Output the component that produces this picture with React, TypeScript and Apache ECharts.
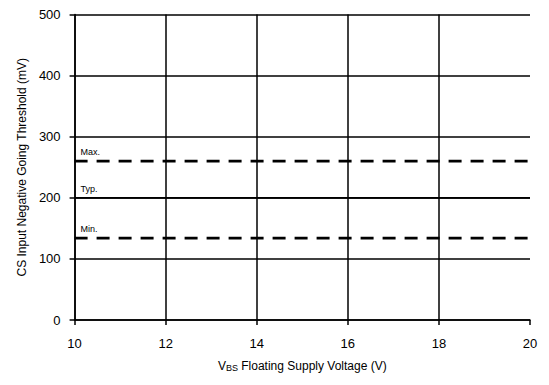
import React, { useEffect, useRef } from "react";
import * as echarts from "echarts";

const xRange = [10, 20];
const maxValues = [260, 260];
const typValues = [200, 200];
const minValues = [134, 134];
const lineLabels = ["Max.", "Typ.", "Min."];

export default function App() {
  const ref = useRef<HTMLDivElement>(null);
  useEffect(() => {
    const chart = echarts.init(ref.current!, null, { renderer: "svg" });
    const font = "Liberation Sans, Arial, sans-serif";
    const mk = (name: string, vals: number[], dashed: boolean) => ({
      name,
      type: "line",
      data: xRange.map((x, i) => [x, vals[i]]),
      showSymbol: false,
      symbol: "none",
      lineStyle: {
        color: "#000",
        width: dashed ? 2.6 : 1.8,
        type: dashed ? [13, 9] : "solid",
      },
      z: 5,
    });
    chart.setOption({
      animation: false,
      backgroundColor: "#fff",
      grid: { left: 61, right: 11, top: 3, bottom: 54 },
      xAxis: {
        type: "value",
        min: 10,
        max: 20,
        interval: 2,
        name: "{v|V}{s|BS}{v| Floating Supply Voltage (V)}",
        nameLocation: "middle",
        nameGap: 40,
        nameTextStyle: {
          rich: {
            v: { fontSize: 12, fontFamily: font, color: "#000", verticalAlign: "bottom" },
            s: { fontSize: 9, fontFamily: font, color: "#000", verticalAlign: "bottom" },
          },
        },
        axisLine: { lineStyle: { color: "#000", width: 1.5 } },
        axisTick: { show: true, inside: false, length: 5, lineStyle: { color: "#000", width: 1.5 } },
        axisLabel: { color: "#000", fontSize: 13, fontFamily: font, margin: 17 },
        splitLine: { show: true, showMaxLine: false, lineStyle: { color: "#000", width: 1.5 } },
      },
      yAxis: {
        type: "value",
        min: 0,
        max: 500,
        interval: 100,
        name: "CS Input Negative Going Threshold (mV)",
        nameLocation: "middle",
        nameGap: 45,
        nameTextStyle: { color: "#000", fontSize: 12, fontFamily: font },
        axisLine: { show: true, lineStyle: { color: "#000", width: 1.5 } },
        axisTick: { show: true, inside: false, length: 5, lineStyle: { color: "#000", width: 1.5 } },
        axisLabel: { color: "#000", fontSize: 13, fontFamily: font, margin: 14 },
        splitLine: { show: true, lineStyle: { color: "#000", width: 1.5 } },
      },
      series: [mk("Max", maxValues, true), mk("Typ", typValues, false), mk("Min", minValues, true)],
    });
    const vals = [maxValues[0], typValues[0], minValues[0]];
    const graphics = vals.map((v, i) => {
      const p = chart.convertToPixel({ gridIndex: 0 }, [xRange[0], v]) as number[];
      return {
        type: "text",
        x: p[0] + 6,
        y: p[1] - 9,
        style: {
          text: lineLabels[i],
          fontSize: 9,
          fontFamily: font,
          fill: "#000",
          align: "left",
          verticalAlign: "middle",
        },
        z: 10,
      };
    });
    chart.setOption({ graphic: graphics });
    return () => chart.dispose();
  }, []);
  return <div ref={ref} style={{ width: 533, height: 369 }} />;
}
